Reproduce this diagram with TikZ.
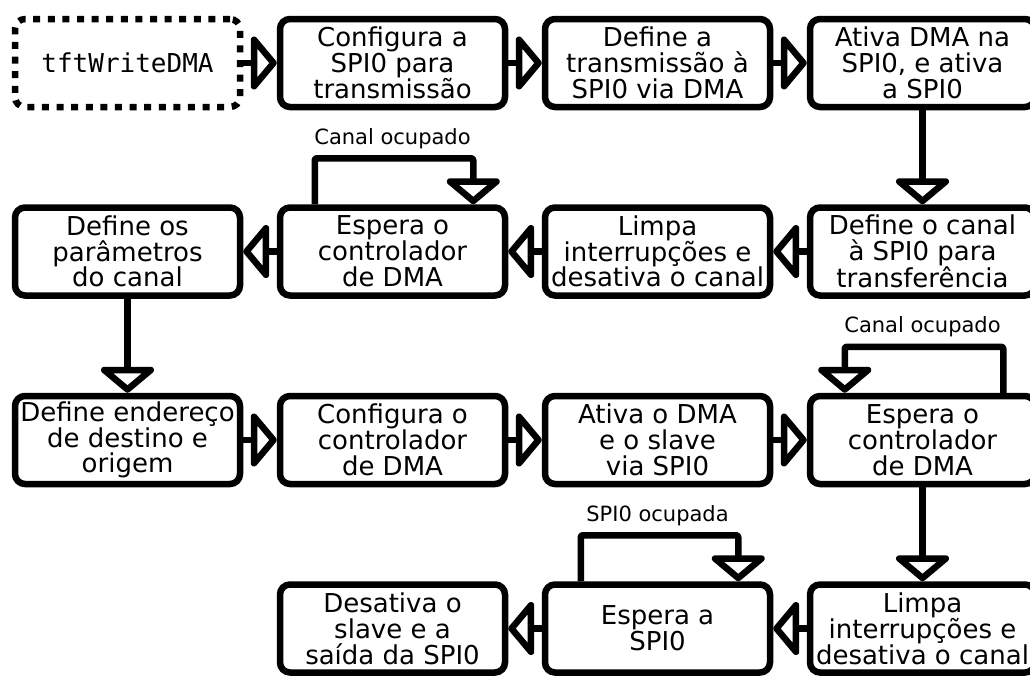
\documentclass[tikz,border=0pt]{standalone}
\usepackage{fontspec}
\setmainfont{DejaVu Sans}
\setmonofont{DejaVu Sans Mono}
\usetikzlibrary{arrows.meta}

\tikzset{
  box/.style={draw, line width=6.5pt, rounded corners=10pt, rectangle,
    minimum width=225pt, minimum height=88pt, inner sep=0pt, align=center,
    font=\fontsize{26}{25.8}\selectfont, fill=white},
  startbox/.style={box, dash pattern=on 7pt off 7.6pt, line cap=butt,
    font=\fontsize{26}{26}\selectfont\ttfamily},
  flow/.style={line width=6.5pt, line join=round,
    -{Triangle[open, length=27pt, width=63pt, round]}},
  loopline/.style={flow, rounded corners=2pt},
  lbl/.style={font=\fontsize{21}{22}\selectfont, inner sep=0pt}
}

\begin{document}
\begin{tikzpicture}[x=1pt, y=-1pt]
  \useasboundingbox (0,0) rectangle (1030,675);
  \clip (0,0) rectangle (1030,675);

  % row 1
  \node[startbox] (start) at (127.5,63) {tftWriteDMA};
  \node[box] (cfgspi) at (392.5,63) {Configura a\\SPI0 para\\transmissão};
  \node[box] (deftx)  at (657.5,63) {Define a\\transmissão à\\SPI0 via DMA};
  \node[box] (atdma)  at (922.5,63) {Ativa DMA na\\SPI0, e ativa\\a SPI0};

  % row 2
  \node[box] (defcan)  at (922.5,251.5) {Define o canal\\à SPI0 para\\transferência};
  \node[box] (limpa1)  at (657.5,251.5) {Limpa\\interrupções e\\desativa o canal};
  \node[box] (espera1) at (392.5,251.5) {Espera o\\controlador\\de DMA};
  \node[box] (defpar)  at (127.5,251.5) {Define os\\parâmetros\\do canal};

  % row 3
  \node[box] (defend)  at (127.5,440) {Define endereço\\de destino e\\origem};
  \node[box] (cfgctl)  at (392.5,440) {Configura o\\controlador\\de DMA};
  \node[box] (atslave) at (657.5,440) {Ativa o DMA\\e o slave\\via SPI0};
  \node[box] (espera2) at (922.5,440) {Espera o\\controlador\\de DMA};

  % row 4
  \node[box] (limpa2)  at (922.5,628.5) {Limpa\\interrupções e\\desativa o canal};
  \node[box] (espspi)  at (657.5,628.5) {Espera a\\SPI0};
  \node[box] (desat)   at (392.5,628.5) {Desativa o\\slave e a\\saída da SPI0};

  % main flow
  \draw[flow] (start) -- (cfgspi);
  \draw[flow] (cfgspi) -- (deftx);
  \draw[flow] (deftx) -- (atdma);
  \draw[flow] (atdma) -- (defcan);
  \draw[flow] (defcan) -- (limpa1);
  \draw[flow] (limpa1) -- (espera1);
  \draw[flow] (espera1) -- (defpar);
  \draw[flow] (defpar) -- (defend);
  \draw[flow] (defend) -- (cfgctl);
  \draw[flow] (cfgctl) -- (atslave);
  \draw[flow] (atslave) -- (espera2);
  \draw[flow] (espera2) -- (limpa2);
  \draw[flow] (limpa2) -- (espspi);
  \draw[flow] (espspi) -- (desat);

  % busy-wait loops
  \draw[loopline] ([xshift=38pt]espera1.north west) -- ++(0,-46)
    -| ([xshift=-35pt]espera1.north east);
  \node[lbl] (busy1) at ([yshift=66pt]espera1.north) {Canal ocupado};

  \draw[loopline] ([xshift=-35pt]espera2.north east) -- ++(0,-46)
    -| ([xshift=38pt]espera2.north west);
  \node[lbl] (busy2) at ([yshift=66pt]espera2.north) {Canal ocupado};

  \draw[loopline] ([xshift=39pt]espspi.north west) -- ++(0,-46)
    -| ([xshift=-35pt]espspi.north east);
  \node[lbl] (busy3) at ([yshift=66pt]espspi.north) {SPI0 ocupada};
\end{tikzpicture}
\end{document}
